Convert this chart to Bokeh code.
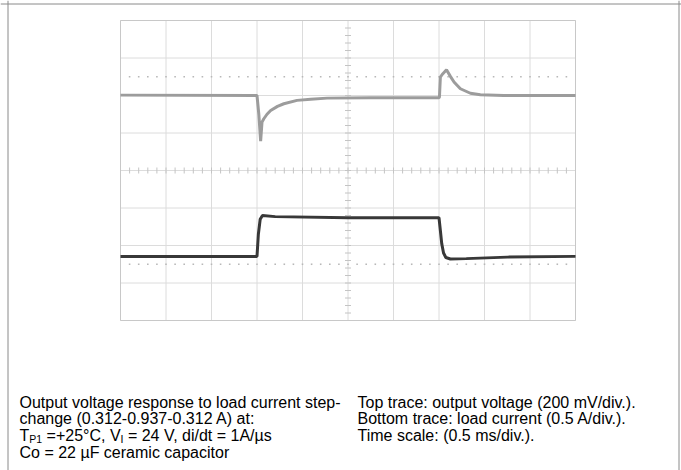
import numpy as np
from bokeh.plotting import figure
from bokeh.models import Range1d, Span
from bokeh.core.properties import value
from bokeh.embed import file_html
from bokeh.resources import INLINE

# ---- data (oscilloscope divisions: x 0..10, y 0..8) ----
top_t = [0.0, 3.0, 3.04, 3.08, 3.11, 3.15, 3.22, 3.3, 3.45, 3.59, 3.88, 4.18, 4.54, 5.5, 7.0, 7.01,
         7.03, 7.07, 7.165, 7.25, 7.33, 7.47, 7.69, 7.91, 8.42, 10.0]
top_v = [6.01, 6.0, 5.5, 4.78, 5.29, 5.38, 5.5, 5.6, 5.71, 5.78, 5.87, 5.9, 5.93, 5.94, 5.94, 5.96,
         6.49, 6.56, 6.685, 6.51, 6.36, 6.18, 6.06, 6.02, 6.0, 6.0]

bot_t = [0.0, 3.0, 3.03, 3.07, 3.12, 3.4, 5.0, 7.0, 7.03, 7.06, 7.1, 7.15, 7.25, 7.6, 8.5, 10.0]
bot_v = [1.71, 1.71, 2.3, 2.7, 2.8, 2.77, 2.74, 2.74, 2.4, 2.05, 1.8, 1.68, 1.64, 1.65, 1.69, 1.71]

x_divs = list(range(0, 11))
y_divs = list(range(0, 9))
marker_levels = [6.5, 1.5]

left_text = ["Output voltage response to load current step-",
             "change (0.312-0.937-0.312 A) at:",
             None,
             "Co = 22 \u00b5F ceramic capacitor"]
cond_pieces = ["T", "P1", " =+25\u00b0C, V", "I", " = 24 V, di/dt = 1A/\u00b5s"]
cond_sub = [False, True, False, True, False]
right_text = ["Top trace: output voltage (200 mV/div.).",
              "Bottom trace: load current (0.5 A/div.).",
              "Time scale: (0.5 ms/div.)."]

# ---- layout ----
W, H = 681, 470
PX_X, PX_Y = 45.5, 37.5          # pixels per division
FL, FT = 120, 20                 # scope area offset inside canvas
xs = -FL / PX_X
xe = xs + W / PX_X
ye = 8 + FT / PX_Y
ys = ye - H / PX_Y

def cx(px):   # canvas px -> data x
    return xs + px / PX_X

def cy(py):   # canvas px from top -> data y
    return ye - py / PX_Y

p = figure(width=W, height=H, x_range=Range1d(xs, xe), y_range=Range1d(ys, ye),
           output_backend="svg", toolbar_location=None,
           x_axis_type=None, y_axis_type=None, min_border=0)
p.min_border_left = p.min_border_right = p.min_border_top = p.min_border_bottom = 0
p.grid.visible = False
p.outline_line_color = None
p.background_fill_color = "white"
p.border_fill_color = "white"

# outer document border (left, top, right)
bc = "#8a8a8a"
p.add_layout(Span(location=cx(7.5), dimension="height", line_color=bc, line_width=1))
p.add_layout(Span(location=cx(678.5), dimension="height", line_color=bc, line_width=1))
p.add_layout(Span(location=cy(3.5), dimension="width", line_color=bc, line_width=1))

# scope graticule
gc = "#dcdcdc"
p.segment(x0=x_divs, y0=[0] * len(x_divs), x1=x_divs, y1=[8] * len(x_divs),
          line_color=gc, line_width=1)
p.segment(x0=[0] * len(y_divs), y0=y_divs, x1=[10] * len(y_divs), y1=y_divs,
          line_color=gc, line_width=1)
# frame
p.segment(x0=[0, 10, 0, 0], y0=[0, 0, 0, 8], x1=[0, 10, 10, 10], y1=[8, 8, 0, 8],
          line_color="#c8c8c8", line_width=1)

# centre-line minor ticks
tx = np.arange(0.2, 10.0, 0.2)
p.segment(x0=tx, y0=4 - 3 / PX_Y, x1=tx, y1=4 + 3 / PX_Y, line_color="#c4c4c4", line_width=1)
ty = np.arange(0.2, 8.0, 0.2)
p.segment(x0=5 - 3 / PX_X, y0=ty, x1=5 + 3 / PX_X, y1=ty, line_color="#c4c4c4", line_width=1)

# dotted marker levels
for lvl in marker_levels:
    p.scatter(x=tx, y=[lvl] * len(tx), marker="square", size=1.6,
              fill_color="#b8b8b8", line_color=None)

# traces
p.line(top_t, top_v, line_color="#9c9c9c", line_width=3)
p.line(bot_t, bot_v, line_color="#383838", line_width=3)

# ---- text ----
FONT = value("Liberation Sans")
FS = 16.0
SFS = 10.5
left_x = 19
right_x = 357
rows_base = [401.5, 418.3, 435.1, 451.9]

AW = {'T': 611, 'P': 667, '1': 556, ' ': 278, '=': 584, '+': 584, '2': 556, '5': 556,
      '\u00b0': 400, 'C': 722, ',': 278, 'V': 667, 'I': 278}

def tw(s, size):
    return sum(AW[c] for c in s) / 1000.0 * size

lx, ly, lt = [], [], []
for i, t in enumerate(left_text):
    if t is not None:
        lx.append(cx(left_x)); ly.append(cy(rows_base[i])); lt.append(t)
for i, t in enumerate(right_text):
    lx.append(cx(right_x)); ly.append(cy(rows_base[i])); lt.append(t)
p.text(x=lx, y=ly, text=lt, text_font=FONT, text_font_size=value(f"{FS}px"),
       text_baseline="alphabetic", text_align="left", text_color="#000000")

cur = left_x
mx, my, mt, sx, sy, st = [], [], [], [], [], []
for piece, sub in zip(cond_pieces, cond_sub):
    size = SFS if sub else FS
    lead = len(piece) - len(piece.lstrip(" "))
    cur += lead * tw(" ", size)
    body = piece.lstrip(" ")
    if sub:
        sx.append(cx(cur)); sy.append(cy(rows_base[2] + 3)); st.append(body)
    else:
        mx.append(cx(cur)); my.append(cy(rows_base[2])); mt.append(body)
    if all(c in AW for c in body):
        cur += tw(body, size)
p.text(x=mx, y=my, text=mt, text_font=FONT, text_font_size=value(f"{FS}px"),
       text_baseline="alphabetic", text_align="left", text_color="#000000")
p.text(x=sx, y=sy, text=st, text_font=FONT, text_font_size=value(f"{SFS}px"),
       text_baseline="alphabetic", text_align="left", text_color="#000000")

open("out.html", "w").write(file_html(p, INLINE))
